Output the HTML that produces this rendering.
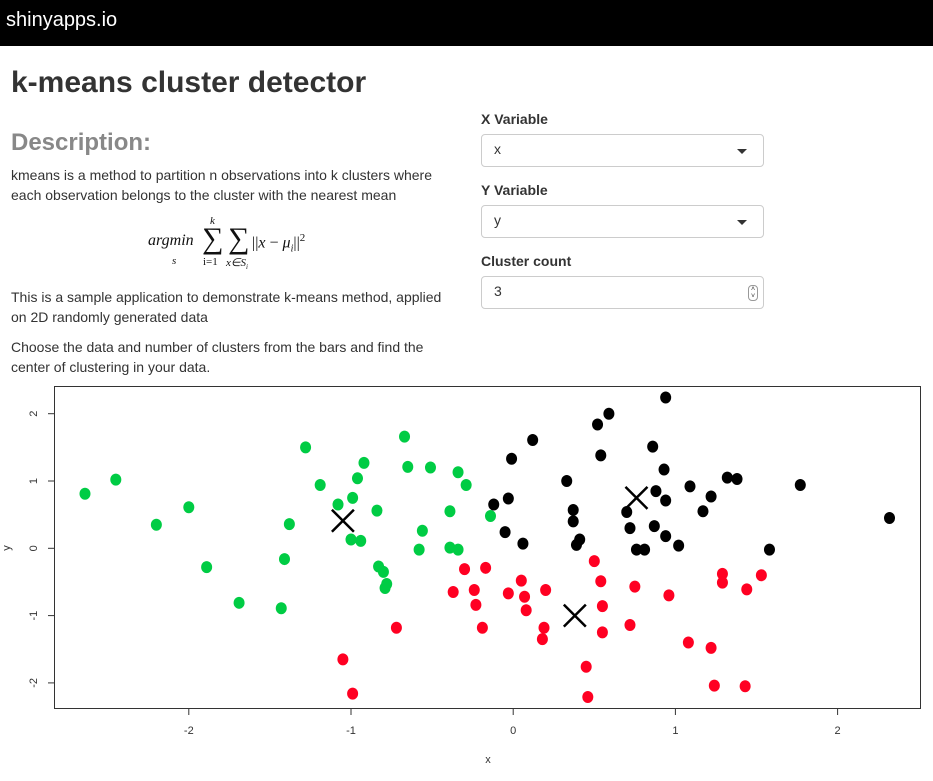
<!DOCTYPE html>
<html><head><meta charset="utf-8"><style>
body{margin:0;width:933px;height:781px;background:#fff;font-family:"Liberation Sans",sans-serif;color:#333;position:relative;overflow:hidden}
.a{position:absolute;white-space:nowrap}
.p{font-size:14px;line-height:20px}
.box{position:absolute;left:481px;width:281px;height:31px;border:1px solid #ccc;border-radius:4px;background:#fff}
.box span{position:absolute;left:12px;top:6px;font-size:14px}
.car{position:absolute;right:16px;top:14px;width:0;height:0;border-left:5px solid transparent;border-right:5px solid transparent;border-top:5px solid #333}
.lbl{font-size:14px;font-weight:bold}
</style></head><body>
<div class="a" style="left:0;top:0;width:933px;height:46px;background:#000"></div>
<div class="a" style="left:6px;top:9px;font-size:20px;color:#fff">shinyapps.io</div>
<div class="a" style="left:11px;top:66px;font-size:30px;font-weight:bold;color:#333">k-means cluster detector</div>
<div class="a" style="left:11px;top:129px;font-size:24px;font-weight:bold;color:#888">Description:</div>
<div class="a p" style="left:11px;top:165px">kmeans is a method to partition n observations into k clusters where<br>each observation belongs to the cluster with the nearest mean</div>
<div class="a" style="left:148px;top:218px;font-family:'Liberation Serif',serif;font-style:italic;font-size:16px;color:#111">
<span class="a" style="left:0;top:14px">argmin</span><span class="a" style="left:24px;top:37px;font-size:11px">s</span>
<span class="a" style="left:54px;top:4px;font-size:30px;font-style:normal">∑</span><span class="a" style="left:62px;top:-3px;font-size:11px">k</span><span class="a" style="left:55px;top:38px;font-size:11px;font-style:normal">i=1</span>
<span class="a" style="left:80px;top:4px;font-size:30px;font-style:normal">∑</span><span class="a" style="left:78px;top:38px;font-size:11px">x∈S<sub style="font-size:7px">i</sub></span>
<span class="a" style="left:104px;top:14px"><span style="font-style:normal">||</span>x <span style="font-style:normal">−</span> μ<sub style="font-size:10px">i</sub><span style="font-style:normal">||</span><sup style="font-size:11px;font-style:normal">2</sup></span>
</div>
<div class="a p" style="left:11px;top:287px">This is a sample application to demonstrate k-means method, applied<br>on 2D randomly generated data</div>
<div class="a p" style="left:11px;top:337px">Choose the data and number of clusters from the bars and find the<br>center of clustering in your data.</div>

<div class="a lbl" style="left:481px;top:111px">X Variable</div>
<div class="box" style="top:134px"><span>x</span><div class="car"></div></div>
<div class="a lbl" style="left:481px;top:182px">Y Variable</div>
<div class="box" style="top:205px"><span>y</span><div class="car"></div></div>
<div class="a lbl" style="left:481px;top:253px">Cluster count</div>
<div class="box" style="top:276px"><span>3</span><div class="a" style="right:5px;top:8px;width:8px;height:14px;border:1px solid #999;border-radius:4px;font-size:7px;line-height:7px;text-align:center">˄<br>˅</div></div>

<svg id="chart" class="a" style="left:0;top:0" width="933" height="781" xmlns="http://www.w3.org/2000/svg"></svg>
<script>
const greenX=[-2.64,-2.45,-2.20,-2.00,-1.89,-1.69,-1.43,-1.41,-1.38,-1.28,-1.19,-1.08,-1.00,-0.99,-0.96,-0.94,-0.92,-0.84,-0.83,-0.80,-0.78,-0.79,-0.67,-0.65,-0.58,-0.56,-0.51,-0.39,-0.39,-0.34,-0.34,-0.29,-0.14];
const greenY=[0.81,1.02,0.35,0.61,-0.28,-0.81,-0.89,-0.16,0.36,1.50,0.94,0.65,0.13,0.75,1.04,0.11,1.27,0.56,-0.27,-0.35,-0.53,-0.59,1.66,1.21,-0.02,0.26,1.20,0.55,0.01,1.13,-0.02,0.94,0.48];
const blackX=[0.94,0.59,0.52,0.12,0.86,0.54,-0.01,0.93,0.33,1.32,1.38,1.77,1.09,0.88,1.22,0.94,-0.03,-0.12,0.37,0.70,1.17,2.32,0.37,0.72,0.87,-0.05,0.94,0.06,0.41,0.39,1.02,0.76,0.81,1.58];
const blackY=[2.24,2.00,1.84,1.61,1.51,1.38,1.33,1.17,1.00,1.05,1.03,0.94,0.92,0.85,0.77,0.71,0.74,0.65,0.57,0.54,0.55,0.45,0.40,0.30,0.33,0.24,0.18,0.07,0.13,0.05,0.04,-0.02,-0.02,-0.02];
const redX=[0.50,-0.30,-0.17,1.29,1.53,0.05,0.54,1.29,0.75,1.44,-0.37,-0.24,0.20,-0.03,0.07,0.96,-0.23,0.55,0.08,-0.72,-0.19,0.19,0.72,0.55,0.18,1.08,1.22,-1.05,0.45,1.24,1.43,-0.99,0.46];
const redY=[-0.19,-0.31,-0.29,-0.38,-0.40,-0.48,-0.49,-0.51,-0.57,-0.61,-0.65,-0.62,-0.62,-0.67,-0.72,-0.70,-0.84,-0.86,-0.92,-1.18,-1.18,-1.18,-1.14,-1.25,-1.35,-1.40,-1.48,-1.65,-1.76,-2.04,-2.05,-2.16,-2.21];
const centerX=[-1.05,0.76,0.38];
const centerY=[0.41,0.75,-1.00];
const xTicks=[-2,-1,0,1,2];
const yTicks=[-2,-1,0,1,2];

const NS="http://www.w3.org/2000/svg";
const svg=document.getElementById('chart');
const X0=513.2,XU=162.2,Y0=548.3,YU=67.3;
const sx=v=>X0+v*XU, sy=v=>Y0-v*YU;
function mk(t,a){const e=document.createElementNS(NS,t);for(const k in a)e.setAttribute(k,a[k]);svg.appendChild(e);return e;}
const frame=mk('rect',{x:54.5,y:386.5,width:866,height:322,fill:'none',stroke:'#333','stroke-width':1});


xTicks.forEach(t=>{
  const l=mk('line',{x1:sx(t),x2:sx(t),y1:708.5,y2:715,stroke:'#333'});
  
  
  const tx=mk('text',{x:sx(t),y:734,'font-size':11,'text-anchor':'middle',fill:'#333','font-family':'Liberation Sans'});
  tx.textContent=t;
  
  
});
yTicks.forEach(t=>{
  const l=mk('line',{x1:48,x2:54.5,y1:sy(t),y2:sy(t),stroke:'#333'});
  
  
  const tx=mk('text',{x:37,y:sy(t),'font-size':11,'text-anchor':'middle',fill:'#333','font-family':'Liberation Sans',transform:`rotate(-90 37 ${sy(t)})`});
  tx.textContent=t;
  
  
});
const xl=mk('text',{x:488,y:763,'font-size':11,'text-anchor':'middle',fill:'#333','font-family':'Liberation Sans'});xl.textContent='x';


const yl=mk('text',{x:10,y:548,'font-size':11,'text-anchor':'middle',fill:'#333','font-family':'Liberation Sans',transform:'rotate(-90 10 548)'});yl.textContent='y';


function pts(xs,ys,col,name){xs.forEach((v,i)=>{
  const c=mk('ellipse',{cx:sx(v),cy:sy(ys[i]),rx:5.5,ry:6,fill:col});
  
  
});}
pts(greenX,greenY,'#00cc44','green-cluster-point');
pts(blackX,blackY,'#000','black-cluster-point');
pts(redX,redY,'#ff0022','red-cluster-point');
centerX.forEach((v,i)=>{
  const cx=sx(v),cy=sy(centerY[i]);
  const p=mk('path',{d:`M${cx-11} ${cy-11}L${cx+11} ${cy+11}M${cx+11} ${cy-11}L${cx-11} ${cy+11}`,stroke:'#000','stroke-width':2.5,fill:'none'});
  
  
});
</script>
</body></html>
